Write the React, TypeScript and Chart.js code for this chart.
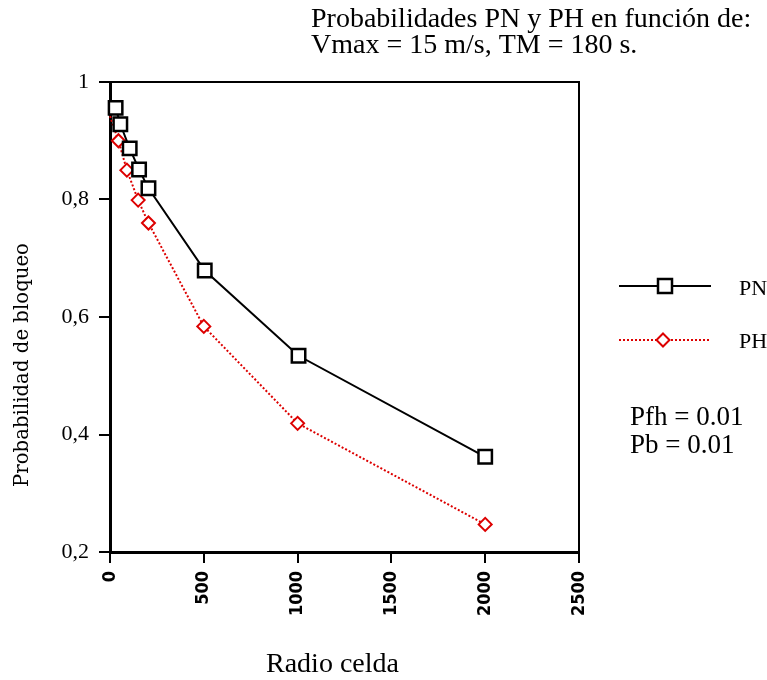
import React, { useEffect, useRef } from "react";
import { Chart, registerables } from "chart.js";

Chart.register(...registerables);

const pnRadio = [30, 55, 105, 155, 205, 505, 1005, 2000];
const pnProb = [0.956, 0.928, 0.887, 0.851, 0.819, 0.679, 0.534, 0.362];
const phRadio = [0, 45, 90, 150, 205, 500, 1000, 2000];
const phProb = [0.942, 0.9, 0.85, 0.799, 0.76, 0.584, 0.419, 0.247];

const seriesNames = ["PN", "PH"];
const titleLines = ["Probabilidades PN y PH en función de:", "Vmax = 15 m/s, TM = 180 s."];
const noteLines = ["Pfh = 0.01", "Pb = 0.01"];
const xTitle = "Radio celda";
const yTitle = "Probabilidad de bloqueo";

const RED = "#dd0000";
const SERIF = '"Liberation Serif", "Times New Roman", serif';

const decorPlugin = {
  id: "decor",
  afterDraw(chart: any) {
    const ctx = chart.ctx as CanvasRenderingContext2D;
    const a = chart.chartArea;
    ctx.save();
    // frame top & right
    ctx.strokeStyle = "#000";
    ctx.lineWidth = 2;
    ctx.beginPath();
    ctx.moveTo(a.left, a.top);
    ctx.lineTo(a.right, a.top);
    ctx.lineTo(a.right, a.bottom);
    ctx.stroke();

    ctx.fillStyle = "#000";
    ctx.textAlign = "left";
    ctx.textBaseline = "alphabetic";
    // title
    ctx.font = `28px ${SERIF}`;
    ctx.fillText(titleLines[0], 311, 27);
    ctx.fillText(titleLines[1], 311, 53);
    // notes
    ctx.font = `27px ${SERIF}`;
    ctx.fillText(noteLines[0], 630, 425);
    ctx.fillText(noteLines[1], 630, 453);
    // x title
    ctx.font = `28px ${SERIF}`;
    ctx.fillText(xTitle, 266, 672);
    // y title
    ctx.save();
    let fs = 17;
    ctx.font = `${fs}px "DejaVu Serif", serif`;
    const w = ctx.measureText(yTitle).width;
    fs = (fs * 244) / w;
    ctx.font = `${fs}px "DejaVu Serif", serif`;
    ctx.translate(28, 365);
    ctx.rotate(-Math.PI / 2);
    ctx.textAlign = "center";
    ctx.fillText(yTitle, 0, 0);
    ctx.restore();

    // legend PN
    ctx.strokeStyle = "#000";
    ctx.lineWidth = 2;
    ctx.setLineDash([]);
    ctx.beginPath();
    ctx.moveTo(619, 286);
    ctx.lineTo(711, 286);
    ctx.stroke();
    ctx.fillStyle = "#fff";
    ctx.lineWidth = 2.5;
    ctx.fillRect(658, 279, 14, 14);
    ctx.strokeRect(658, 279, 14, 14);
    ctx.fillStyle = "#000";
    ctx.font = `22px ${SERIF}`;
    ctx.fillText(seriesNames[0], 739, 295);

    // legend PH
    ctx.strokeStyle = RED;
    ctx.lineWidth = 2;
    ctx.setLineDash([2, 2]);
    ctx.beginPath();
    ctx.moveTo(619, 340);
    ctx.lineTo(710, 340);
    ctx.stroke();
    ctx.setLineDash([]);
    ctx.fillStyle = "#fff";
    ctx.beginPath();
    ctx.moveTo(663, 333.5);
    ctx.lineTo(669.5, 340);
    ctx.lineTo(663, 346.5);
    ctx.lineTo(656.5, 340);
    ctx.closePath();
    ctx.fill();
    ctx.stroke();
    ctx.fillStyle = "#000";
    ctx.fillText(seriesNames[1], 739, 348);
    ctx.restore();
  },
};

export default function App() {
  const ref = useRef<HTMLCanvasElement | null>(null);

  useEffect(() => {
    if (!ref.current) return;
    const pnData = pnRadio.map((x, i) => ({ x, y: pnProb[i] }));
    const phData = phRadio.map((x, i) => ({ x, y: phProb[i] }));
    const chart = new Chart(ref.current, {
      type: "line",
      data: {
        datasets: [
          {
            label: seriesNames[0],
            data: pnData,
            borderColor: "#000",
            borderWidth: 2,
            pointStyle: "rect",
            pointRadius: 9.5,
            pointBorderWidth: 2.5,
            pointBackgroundColor: "#fff",
            pointBorderColor: "#000",
            tension: 0,
            clip: false as any,
          },
          {
            label: seriesNames[1],
            data: phData,
            borderColor: RED,
            borderWidth: 2,
            borderDash: [2, 2],
            pointStyle: "rectRot",
            pointRadius: phData.map((_, i) => (i === 0 ? 0 : 6.5)),
            pointBorderWidth: 2,
            pointBackgroundColor: "#fff",
            pointBorderColor: RED,
            tension: 0,
            clip: false as any,
          },
        ],
      },
      options: {
        animation: false,
        responsive: false,
        maintainAspectRatio: false,
        layout: { padding: { top: 82, right: 188, left: 0, bottom: 0 } },
        plugins: { legend: { display: false }, tooltip: { enabled: false } },
        scales: {
          x: {
            type: "linear",
            min: 0,
            max: 2500,
            afterFit: (s: any) => {
              s.height = 128;
            },
            ticks: {
              stepSize: 500,
              minRotation: 90,
              maxRotation: 90,
              autoSkip: false,
              color: "#000",
              padding: 8,
              font: {
                family: '"Liberation Sans Narrow", "DejaVu Sans Condensed", sans-serif',
                size: 18,
                weight: "bold",
              },
              callback: (v: any) => String(Math.round(Number(v))),
            },
            grid: { drawOnChartArea: false, tickLength: 11, color: "#000", lineWidth: 2 },
            border: { color: "#000", width: 3 },
          },
          y: {
            type: "linear",
            min: 0.2,
            max: 1,
            afterFit: (s: any) => {
              s.width = 110;
            },
            ticks: {
              stepSize: 0.2,
              color: "#000",
              padding: 10,
              font: { family: SERIF, size: 22 },
              callback: (v: any) => (Math.abs(v - 1) < 1e-9 ? "1" : Number(v).toFixed(1).replace(".", ",")),
            },
            grid: { drawOnChartArea: false, tickLength: 11, color: "#000", lineWidth: 2 },
            border: { color: "#000", width: 3 },
          },
        },
      },
      plugins: [decorPlugin],
    });
    return () => chart.destroy();
  }, []);

  return (
    <div style={{ position: "absolute", left: 0, top: 0, width: 767, height: 680, background: "#fff" }}>
      <canvas ref={ref} width={767} height={680} style={{ width: 767, height: 680, display: "block" }} />
    </div>
  );
}
